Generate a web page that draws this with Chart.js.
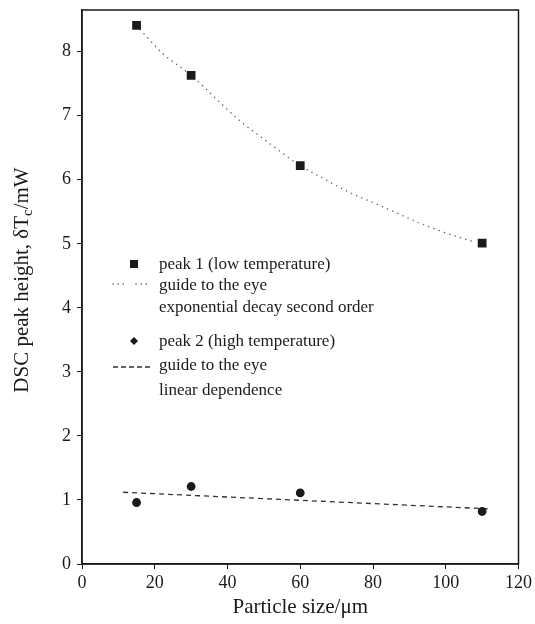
<!DOCTYPE html>
<html>
<head>
<meta charset="utf-8">
<script src="https://cdn.jsdelivr.net/npm/chart.js@4"></script>
<style>
  body { margin: 0; background: #fff; }
  #wrap { width: 535px; height: 624px; position: relative; }
</style>
</head>
<body>
<div id="wrap"><canvas id="dscChart"></canvas></div>
<script>
// values
const peak1X = [15, 30, 60, 110];
const peak1Y = [8.41, 7.63, 6.22, 5.01];
const peak2X = [15, 30, 60, 110];
const peak2Y = [0.96, 1.21, 1.11, 0.82];

// guide to the eye curves (traced)
const guide1X = [15, 22, 30, 43, 51, 60, 65, 74, 81, 93, 98, 106, 108];
const guide1Y = [8.41, 7.98, 7.63, 6.94, 6.59, 6.22, 6.06, 5.79, 5.62, 5.32, 5.21, 5.06, 5.03];
const guide2X = [11.3, 112.3];
const guide2Y = [1.12, 0.86];

const xTicks = [0, 20, 40, 60, 80, 100, 120];
const yTicks = [0, 1, 2, 3, 4, 5, 6, 7, 8];

const legendLines = [
  "peak 1 (low temperature)",
  "guide to the eye",
  "exponential decay second order",
  "peak 2 (high temperature)",
  "guide to the eye",
  "linear dependence"
];

const SERIF = "'Liberation Serif', 'DejaVu Serif', serif";
const ink = "#1a1a1a";

function pts(xs, ys) {
  return xs.map((x, i) => ({ x: x, y: ys[i] }));
}

// frame, y title with subscript and the hand-made legend
const extrasPlugin = {
  id: "extras",
  afterDraw(chart) {
    const ctx = chart.ctx;
    const a = chart.chartArea;
    ctx.save();
    ctx.strokeStyle = ink;
    ctx.lineWidth = 1.5;
    ctx.strokeRect(a.left, a.top, a.right - a.left, a.bottom - a.top);

    // y axis title
    ctx.save();
    ctx.translate(22, 280);
    ctx.rotate(-Math.PI / 2);
    ctx.fillStyle = ink;
    ctx.textBaseline = "middle";
    const big = "21px " + SERIF, small = "15px " + SERIF;
    const p1 = "DSC peak height, \u03b4T", p2 = "c", p3 = "/mW";
    ctx.font = big;
    const w1 = ctx.measureText(p1).width, w3 = ctx.measureText(p3).width;
    ctx.font = small;
    const w2 = ctx.measureText(p2).width;
    let x = -(w1 + w2 + w3) / 2;
    ctx.font = big; ctx.fillText(p1, x, 0); x += w1;
    ctx.font = small; ctx.fillText(p2, x, 6); x += w2;
    ctx.font = big; ctx.fillText(p3, x, 0);
    ctx.restore();

    // legend
    ctx.fillStyle = ink;
    ctx.font = "17px " + SERIF;
    ctx.textBaseline = "middle";
    const rows = [265, 286, 308, 342, 366, 391];
    legendLines.forEach((t, i) => ctx.fillText(t, 159, rows[i]));

    ctx.fillRect(130, 260, 8, 8);
    ctx.beginPath();
    ctx.moveTo(134, 337); ctx.lineTo(138, 341); ctx.lineTo(134, 345); ctx.lineTo(130, 341);
    ctx.closePath(); ctx.fill();

    ctx.strokeStyle = "#555";
    ctx.lineWidth = 1.6;
    ctx.lineCap = "round";
    ctx.setLineDash([0.1, 5]);
    ctx.beginPath();
    ctx.moveTo(113, 284); ctx.lineTo(124, 284);
    ctx.moveTo(136, 284); ctx.lineTo(147, 284);
    ctx.stroke();

    ctx.strokeStyle = "#333";
    ctx.lineWidth = 1.3;
    ctx.lineCap = "butt";
    ctx.setLineDash([5, 3]);
    ctx.beginPath();
    ctx.moveTo(113, 367); ctx.lineTo(152, 367);
    ctx.stroke();
    ctx.restore();
  }
};

new Chart(document.getElementById("dscChart"), {
  type: "scatter",
  data: {
    datasets: [
      {
        label: "peak 1",
        data: pts(peak1X, peak1Y),
        pointStyle: "rect",
        pointRadius: 6.2,
        backgroundColor: ink,
        borderColor: ink,
        borderWidth: 0,
        order: 0
      },
      {
        label: "peak 2",
        data: pts(peak2X, peak2Y),
        pointStyle: "circle",
        pointRadius: 4.4,
        backgroundColor: ink,
        borderColor: ink,
        borderWidth: 0,
        order: 0
      },
      {
        label: "guide 1",
        data: pts(guide1X, guide1Y),
        showLine: true,
        pointRadius: 0,
        borderColor: "#666",
        borderWidth: 1.5,
        borderDash: [0.1, 5.5],
        borderCapStyle: "round",
        cubicInterpolationMode: "monotone",
        order: 1
      },
      {
        label: "guide 2",
        data: pts(guide2X, guide2Y),
        showLine: true,
        pointRadius: 0,
        borderColor: "#333",
        borderWidth: 1.3,
        borderDash: [5, 4],
        order: 1
      }
    ]
  },
  options: {
    responsive: true,
    maintainAspectRatio: false,
    animation: false,
    layout: { padding: { left: 0, right: 16, top: 10, bottom: 4 } },
    plugins: {
      legend: { display: false },
      tooltip: { enabled: false }
    },
    scales: {
      x: {
        type: "linear",
        min: 0,
        max: 120,
        afterFit: (s) => { s.height = 56; },
        afterBuildTicks: (s) => { s.ticks = xTicks.map(v => ({ value: v })); },
        grid: { drawOnChartArea: false, drawTicks: true, tickLength: 5, color: ink, lineWidth: 1 },
        border: { color: ink, width: 1.5 },
        ticks: { color: ink, padding: 3, maxRotation: 0, font: { family: SERIF, size: 18 } },
        title: {
          display: true,
          text: "Particle size/\u03bcm",
          color: ink,
          padding: { top: 0, bottom: 0 },
          font: { family: SERIF, size: 21 }
        }
      },
      y: {
        type: "linear",
        min: 0,
        max: 8.65,
        afterFit: (s) => { s.width = 82; s.paddingTop = 0; s.paddingBottom = 0; },
        afterBuildTicks: (s) => { s.ticks = yTicks.map(v => ({ value: v })); },
        grid: { drawOnChartArea: false, drawTicks: true, tickLength: 5, color: ink, lineWidth: 1 },
        border: { color: ink, width: 1.5 },
        ticks: { color: ink, padding: 6, font: { family: SERIF, size: 18 } }
      }
    }
  },
  plugins: [extrasPlugin]
});
</script>
</body>
</html>
